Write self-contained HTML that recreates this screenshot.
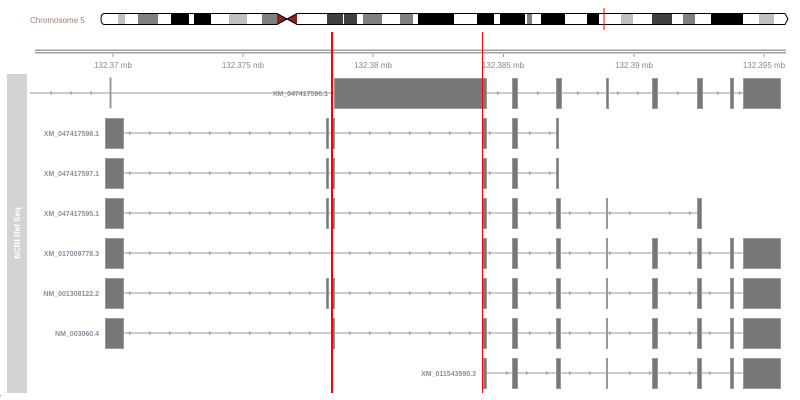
<!DOCTYPE html>
<html><head><meta charset="utf-8"><style>
html,body{margin:0;padding:0;background:#fff;width:800px;height:400px;overflow:hidden}
svg{display:block}
text{font-family:"Liberation Sans",sans-serif}
</style></head><body>
<svg width="800" height="400" viewBox="0 0 800 400" xmlns="http://www.w3.org/2000/svg">
<defs>
<path id="c1" stroke="#999" fill="none" stroke-width="0.8" d="M129 131.5 L131 133 L129 134.5 M149 131.5 L151 133 L149 134.5 M169 131.5 L171 133 L169 134.5 M189 131.5 L191 133 L189 134.5 M209 131.5 L211 133 L209 134.5 M229 131.5 L231 133 L229 134.5 M249 131.5 L251 133 L249 134.5 M269 131.5 L271 133 L269 134.5 M289 131.5 L291 133 L289 134.5 M309 131.5 L311 133 L309 134.5 M349 131.5 L351 133 L349 134.5 M369 131.5 L371 133 L369 134.5 M389 131.5 L391 133 L389 134.5 M409 131.5 L411 133 L409 134.5 M429 131.5 L431 133 L429 134.5 M449 131.5 L451 133 L449 134.5 M469 131.5 L471 133 L469 134.5 M489 131.5 L491 133 L489 134.5 M529 131.5 L531 133 L529 134.5 M549 131.5 L551 133 L549 134.5"/>
<path id="c2" stroke="#999" fill="none" stroke-width="0.8" d="M569 211.5 L571 213 L569 214.5 M589 211.5 L591 213 L589 214.5 M609 211.5 L611 213 L609 214.5 M629 211.5 L631 213 L629 214.5 M669 211.5 L671 213 L669 214.5 M689 211.5 L691 213 L689 214.5"/>
<path id="c3" stroke="#999" fill="none" stroke-width="0.8" d="M709 251.5 L711 253 L709 254.5"/>
</defs>
<text x="30" y="23" font-size="8" fill="#a08070">Chromosome 5</text>
<g shape-rendering="crispEdges">
<rect x="118" y="14" width="7" height="10" fill="#c0c0c0"/>
<rect x="138" y="14" width="20" height="10" fill="#808080"/>
<rect x="171" y="14" width="18" height="10" fill="#000"/>
<rect x="194" y="14" width="17" height="10" fill="#000"/>
<rect x="229" y="14" width="18" height="10" fill="#c0c0c0"/>
<rect x="262" y="14" width="15" height="10" fill="#808080"/>
<rect x="327" y="14" width="16" height="10" fill="#404040"/>
<rect x="344" y="14" width="13" height="10" fill="#404040"/>
<rect x="363" y="14" width="19" height="10" fill="#808080"/>
<rect x="400" y="14" width="13" height="10" fill="#808080"/>
<rect x="418" y="14" width="36" height="10" fill="#000"/>
<rect x="477" y="14" width="17" height="10" fill="#000"/>
<rect x="500" y="14" width="25" height="10" fill="#000"/>
<rect x="527" y="14" width="5" height="10" fill="#808080"/>
<rect x="541" y="14" width="24" height="10" fill="#000"/>
<rect x="587" y="14" width="12" height="10" fill="#000"/>
<rect x="621" y="14" width="12" height="10" fill="#c0c0c0"/>
<rect x="652" y="14" width="20" height="10" fill="#404040"/>
<rect x="683" y="14" width="12" height="10" fill="#808080"/>
<rect x="711" y="14" width="32" height="10" fill="#000"/>
<rect x="759" y="14" width="15" height="10" fill="#c0c0c0"/>
</g>
<path d="M277 14 L287 19 L277 24 Z" fill="#8b2323"/>
<path d="M297 14 L287 19 L297 24 Z" fill="#8b2323"/>
<path d="M104 13.5 L277 13.5 L287 19 L297 13.5 L785 13.5 L788 19 L785 24.5 L297 24.5 L287 19 L277 24.5 L104 24.5 Q101 24 101 19 Q101 14 104 13.5 Z" fill="none" stroke="#000" stroke-width="1"/>
<line x1="604" y1="8" x2="604" y2="30" stroke="#f00" stroke-width="1"/>
<rect x="35" y="49.5" width="751" height="1.5" fill="#a0a0a0"/>
<rect x="35" y="52" width="751" height="1.5" fill="#a0a0a0"/>
<g stroke="#999" stroke-width="1">
<line x1="113" y1="54" x2="113" y2="57"/><line x1="243" y1="54" x2="243" y2="57"/>
<line x1="373" y1="54" x2="373" y2="57"/><line x1="503.5" y1="54" x2="503.5" y2="57"/>
<line x1="634" y1="54" x2="634" y2="57"/><line x1="764" y1="54" x2="764" y2="57"/>
</g>
<g font-size="8" fill="#888" text-anchor="middle">
<text x="113" y="68">132.37 mb</text><text x="243" y="68">132.375 mb</text>
<text x="373" y="68">132.38 mb</text><text x="503" y="68">132.385 mb</text>
<text x="634" y="68">132.39 mb</text><text x="764" y="68">132.395 mb</text>
</g>
<rect x="7" y="74" width="20" height="319" fill="#d3d3d3"/>
<text transform="translate(20,233) rotate(-90)" font-size="8" font-weight="bold" fill="#fff" text-anchor="middle">NCBI Ref Seq</text>

<g stroke="#999" fill="none" stroke-width="1">
<line x1="30" y1="93" x2="743" y2="93"/>
<line x1="123" y1="133" x2="559" y2="133"/>
<line x1="123" y1="173" x2="559" y2="173"/>
<line x1="123" y1="213" x2="702" y2="213"/>
<line x1="123" y1="253" x2="743" y2="253"/>
<line x1="123" y1="293" x2="743" y2="293"/>
<line x1="123" y1="333" x2="743" y2="333"/>
<line x1="482" y1="373" x2="743" y2="373"/>
</g>
<g stroke="#999" fill="none" stroke-width="0.8">
<path d="M52 91.5 L50 93 L52 94.5 M72 91.5 L70 93 L72 94.5 M92 91.5 L90 93 L92 94.5"/>
<path d="M497 91.5 L499 93 L497 94.5 M537 91.5 L539 93 L537 94.5 M577 91.5 L579 93 L577 94.5 M597 91.5 L599 93 L597 94.5 M617 91.5 L619 93 L617 94.5 M637 91.5 L639 93 L637 94.5 M677 91.5 L679 93 L677 94.5 M717 91.5 L719 93 L717 94.5 M739 91.5 L741 93 L739 94.5"/>
<path d="M506 371.5 L508 373 L506 374.5 M526 371.5 L528 373 L526 374.5 M546 371.5 L548 373 L546 374.5 M569 371.5 L571 373 L569 374.5 M589 371.5 L591 373 L589 374.5 M629 371.5 L631 373 L629 374.5 M649 371.5 L651 373 L649 374.5 M669 371.5 L671 373 L669 374.5 M689 371.5 L691 373 L689 374.5 M709 371.5 L711 373 L709 374.5"/>
</g>
<use href="#c1"/><use href="#c1" y="40"/><use href="#c1" y="80"/><use href="#c1" y="120"/><use href="#c1" y="160"/><use href="#c1" y="200"/>
<use href="#c2"/><use href="#c2" y="40"/><use href="#c2" y="80"/><use href="#c2" y="120"/>
<use href="#c3"/><use href="#c3" y="40"/><use href="#c3" y="80"/>

<g fill="#777" stroke="#999" stroke-width="1" shape-rendering="crispEdges">
<rect x="110" y="78" width="1" height="30"/>
<rect x="334.5" y="78.5" width="152" height="30"/>
<rect x="512.5" y="78.5" width="5" height="30"/><rect x="556.5" y="78.5" width="5" height="30"/>
<rect x="606.5" y="78.5" width="2" height="30"/><rect x="652.5" y="78.5" width="5" height="30"/>
<rect x="697.5" y="78.5" width="5" height="30"/><rect x="730.5" y="78.5" width="3" height="30"/>
<rect x="743.5" y="78.5" width="37" height="30"/>
<rect x="105.5" y="118.5" width="18" height="30"/>
<rect x="326.5" y="118.5" width="2" height="30"/><rect x="331.5" y="118.5" width="3" height="30"/>
<rect x="482.5" y="118.5" width="4" height="30"/><rect x="512.5" y="118.5" width="5" height="30"/>
<rect x="556.5" y="118.5" width="2" height="30"/>
<rect x="105.5" y="158.5" width="18" height="30"/>
<rect x="326.5" y="158.5" width="2" height="30"/><rect x="331.5" y="158.5" width="3" height="30"/>
<rect x="482.5" y="158.5" width="4" height="30"/><rect x="512.5" y="158.5" width="5" height="30"/>
<rect x="556.5" y="158.5" width="2" height="30"/>
<rect x="105.5" y="198.5" width="18" height="30"/>
<rect x="326.5" y="198.5" width="2" height="30"/><rect x="331.5" y="198.5" width="3" height="30"/>
<rect x="482.5" y="198.5" width="4" height="30"/><rect x="512.5" y="198.5" width="5" height="30"/>
<rect x="556.5" y="198.5" width="4" height="30"/><rect x="606.5" y="198.5" width="1" height="30"/>
<rect x="697.5" y="198.5" width="4" height="30"/>
<rect x="105.5" y="238.5" width="18" height="30"/>
<rect x="482.5" y="238.5" width="4" height="30"/><rect x="512.5" y="238.5" width="5" height="30"/>
<rect x="556.5" y="238.5" width="4" height="30"/><rect x="606.5" y="238.5" width="1" height="30"/>
<rect x="652.5" y="238.5" width="5" height="30"/><rect x="697.5" y="238.5" width="4" height="30"/>
<rect x="730.5" y="238.5" width="3" height="30"/><rect x="743.5" y="238.5" width="37" height="30"/>
<rect x="105.5" y="278.5" width="18" height="30"/>
<rect x="326.5" y="278.5" width="2" height="30"/><rect x="331.5" y="278.5" width="3" height="30"/>
<rect x="482.5" y="278.5" width="4" height="30"/><rect x="512.5" y="278.5" width="5" height="30"/>
<rect x="556.5" y="278.5" width="4" height="30"/><rect x="606.5" y="278.5" width="1" height="30"/>
<rect x="652.5" y="278.5" width="5" height="30"/><rect x="697.5" y="278.5" width="4" height="30"/>
<rect x="730.5" y="278.5" width="3" height="30"/><rect x="743.5" y="278.5" width="37" height="30"/>
<rect x="105.5" y="318.5" width="18" height="30"/>
<rect x="331.5" y="318.5" width="3" height="30"/>
<rect x="482.5" y="318.5" width="4" height="30"/><rect x="512.5" y="318.5" width="5" height="30"/>
<rect x="556.5" y="318.5" width="4" height="30"/><rect x="606.5" y="318.5" width="1" height="30"/>
<rect x="652.5" y="318.5" width="5" height="30"/><rect x="697.5" y="318.5" width="4" height="30"/>
<rect x="730.5" y="318.5" width="3" height="30"/><rect x="743.5" y="318.5" width="37" height="30"/>
<rect x="483.5" y="358.5" width="3" height="30"/><rect x="512.5" y="358.5" width="5" height="30"/>
<rect x="556.5" y="358.5" width="4" height="30"/><rect x="606.5" y="358.5" width="1" height="30"/>
<rect x="652.5" y="358.5" width="5" height="30"/><rect x="697.5" y="358.5" width="4" height="30"/>
<rect x="730.5" y="358.5" width="3" height="30"/><rect x="743.5" y="358.5" width="37" height="30"/>
</g>

<g font-size="7" font-weight="bold" fill="#8a8f99" text-anchor="end">
<text x="328" y="96">XM_047417596.1</text>
<text x="99" y="136">XM_047417598.1</text>
<text x="99" y="176">XM_047417597.1</text>
<text x="99" y="216">XM_047417595.1</text>
<text x="99" y="256">XM_017009778.3</text>
<text x="99" y="296">NM_001308122.2</text>
<text x="99" y="336">NM_003060.4</text>
<text x="476" y="376">XM_011543590.3</text>
</g>

<rect x="331" y="32" width="2" height="361" fill="#f00"/>
<rect x="482" y="32" width="1" height="361" fill="#f00"/>
<rect x="0" y="395" width="1" height="1" fill="#999"/>
</svg>
</body></html>
